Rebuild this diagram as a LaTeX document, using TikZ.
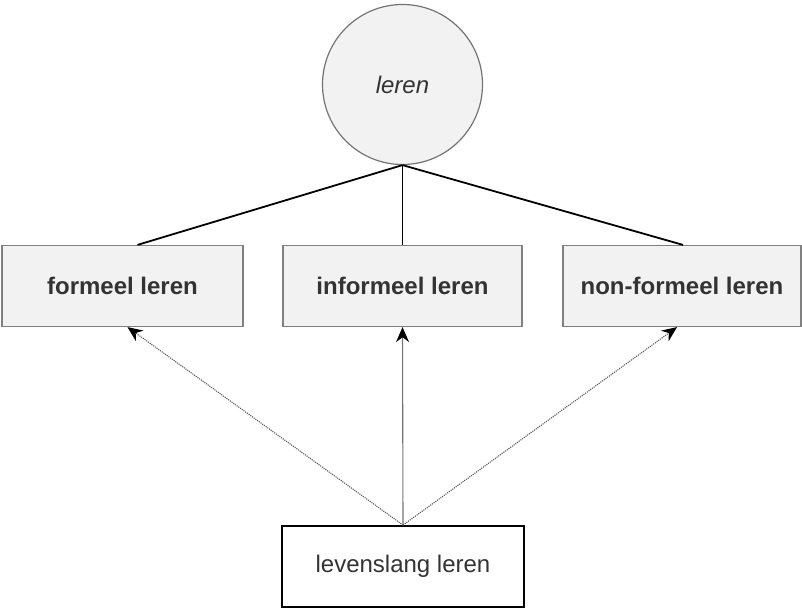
\documentclass[tikz,border=0pt]{standalone}
\usepackage{fontspec}
\setmainfont{Liberation Sans}
\usetikzlibrary{arrows.meta}
\begin{document}
\begin{tikzpicture}[x=1pt,y=-1pt,
  txt/.style={text=black!80, font=\fontsize{24}{28}\selectfont},
  graybox/.style={draw=black!50, line width=1.2pt, fill=black!5, minimum height=81pt, inner sep=0pt, txt, font=\fontsize{24}{28}\selectfont\bfseries},
  whitebox/.style={draw=black, line width=1.8pt, fill=white, minimum width=242pt, minimum height=81pt, inner sep=0pt, txt},
  topcircle/.style={circle, draw=black!55, line width=1.2pt, fill=black!5, minimum size=160pt, inner sep=0pt, txt, font=\fontsize{24}{28}\selectfont\itshape},
  link/.style={black, line width=1.8pt},
  dotarrow/.style={black!65, line width=1.1pt, densely dotted, -{Stealth[length=15pt,width=13pt,black]}},
  solidarrow/.style={black!55, line width=1.1pt, -{Stealth[length=15pt,width=13pt,black]}}
]
\useasboundingbox (0,0) rectangle (802,608);
\node[topcircle] (l) at (402.5,84.5) {leren};
\node[graybox, minimum width=241pt] (f) at (122.5,286) {formeel leren};
\node[graybox, minimum width=239pt] (i) at (402.5,286) {informeel leren};
\node[graybox, minimum width=238pt] (n) at (682,286) {non-formeel leren};
\node[whitebox] (v) at (403,566.5) {levenslang leren};
\draw[link] (l.south) -- ([xshift=15pt]f.north);
\draw[link] (l.south) -- (i.north);
\draw[link] (l.south) -- ([xshift=1pt]n.north);
\draw[dotarrow] (v.north) -- ([xshift=5pt]f.south);
\draw[solidarrow] (v.north) -- (i.south);
\draw[dotarrow] (v.north) -- ([xshift=-5pt]n.south);
\end{tikzpicture}
\end{document}
